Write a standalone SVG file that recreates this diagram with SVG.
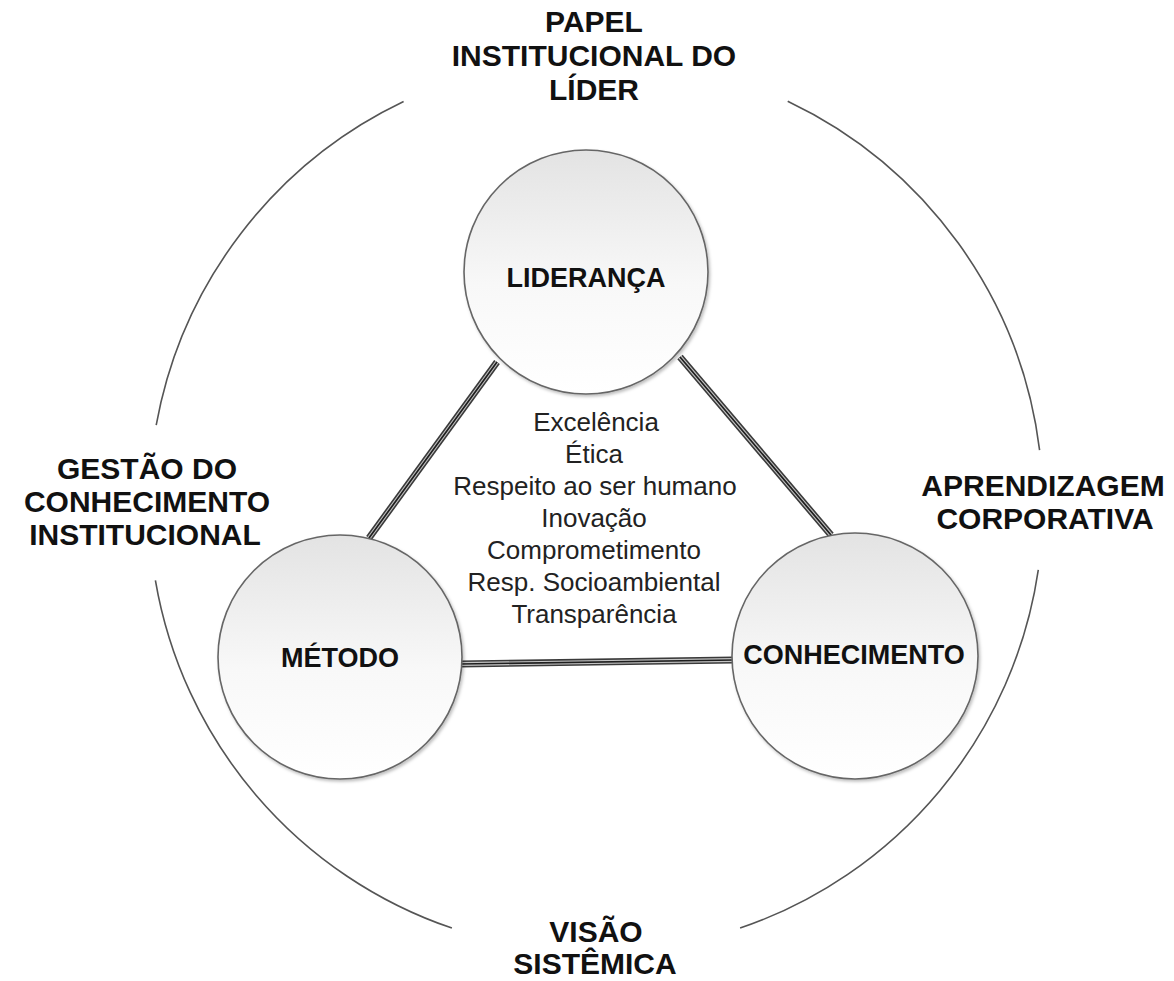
<svg xmlns="http://www.w3.org/2000/svg" width="1174" height="981" viewBox="0 0 1174 981">
  <defs>
    <linearGradient id="ballFill" x1="0" y1="0" x2="0" y2="1">
      <stop offset="0" stop-color="#e3e3e3"/>
      <stop offset="0.55" stop-color="#f8f8f8"/>
      <stop offset="1" stop-color="#ffffff"/>
    </linearGradient>
    <filter id="shadow" x="-10%" y="-10%" width="125%" height="125%">
      <feDropShadow dx="1.5" dy="2" stdDeviation="1.5" flood-color="#000" flood-opacity="0.25"/>
    </filter>
  </defs>
  <style>
    .arc { fill: none; stroke: #555; stroke-width: 1.6; }
    .ball { fill: url(#ballFill); stroke: #666; stroke-width: 1.6; filter: url(#shadow); }
    .big { font-family: "Liberation Sans", Arial, sans-serif; font-weight: bold; font-size: 30px; fill: #111; text-anchor: middle; }
    .node { font-family: "Liberation Sans", Arial, sans-serif; font-weight: bold; font-size: 27px; fill: #111; text-anchor: middle; }
    .val { font-family: "Liberation Sans", Arial, sans-serif; font-size: 26px; fill: #222; text-anchor: middle; }
    .c1 { stroke: #3a3a3a; stroke-width: 7; fill: none; }
    .c2 { stroke: #c4c4c4; stroke-width: 3.8; fill: none; }
    .c3 { stroke: #1e1e1e; stroke-width: 1.7; fill: none; }
  </style>
  <rect width="1174" height="981" fill="#ffffff"/>

  <g id="outer-ring">
    <path class="arc" d="M 403.6 101.5 A 447 447 0 0 0 156.2 425.1"/>
    <path class="arc" d="M 787.7 101.2 A 447 447 0 0 1 1039.6 450.1"/>
    <path class="arc" d="M 1038.3 569.8 A 447 447 0 0 1 740.1 928.1"/>
    <path class="arc" d="M 451.9 928.1 A 447 447 0 0 1 155.4 580.3"/>
  </g>

  <g id="label-papel">
    <text class="big" x="594" y="32">PAPEL</text>
    <text class="big" x="594" y="66">INSTITUCIONAL DO</text>
    <text class="big" x="594" y="100">LÍDER</text>
  </g>
  <g id="label-gestao">
    <text class="big" x="147" y="479">GESTÃO DO</text>
    <text class="big" x="147" y="512">CONHECIMENTO</text>
    <text class="big" x="145" y="545">INSTITUCIONAL</text>
  </g>
  <g id="label-aprendizagem">
    <text class="big" x="1043" y="496">APRENDIZAGEM</text>
    <text class="big" x="1045" y="529">CORPORATIVA</text>
  </g>
  <g id="label-visao">
    <text class="big" x="596" y="942">VISÃO</text>
    <text class="big" x="595" y="974">SISTÊMICA</text>
  </g>

  <g id="connectors">
    <g>
      <line class="c1" x1="497" y1="362" x2="369" y2="538"/>
      <line class="c2" x1="497" y1="362" x2="369" y2="538"/>
      <line class="c3" x1="497" y1="362" x2="369" y2="538"/>
    </g>
    <g>
      <line class="c1" x1="680" y1="357" x2="831" y2="535"/>
      <line class="c2" x1="680" y1="357" x2="831" y2="535"/>
      <line class="c3" x1="680" y1="357" x2="831" y2="535"/>
    </g>
    <g>
      <line class="c1" x1="460" y1="664" x2="734" y2="660"/>
      <line class="c2" x1="460" y1="664" x2="734" y2="660"/>
      <line class="c3" x1="460" y1="664" x2="734" y2="660"/>
    </g>
  </g>

  <g id="node-lideranca">
    <circle class="ball" cx="586" cy="272" r="122"/>
    <text class="node" x="586" y="287">LIDERANÇA</text>
  </g>
  <g id="node-metodo">
    <circle class="ball" cx="340" cy="657" r="122"/>
    <text class="node" x="340" y="667">MÉTODO</text>
  </g>
  <g id="node-conhecimento">
    <circle class="ball" cx="855" cy="656" r="123"/>
    <text class="node" x="854" y="664">CONHECIMENTO</text>
  </g>

  <g id="values">
    <text class="val" x="596" y="431">Excelência</text>
    <text class="val" x="594" y="463">Ética</text>
    <text class="val" x="595" y="495">Respeito ao ser humano</text>
    <text class="val" x="594" y="527">Inovação</text>
    <text class="val" x="594" y="559">Comprometimento</text>
    <text class="val" x="594" y="591">Resp. Socioambiental</text>
    <text class="val" x="594" y="623">Transparência</text>
  </g>
</svg>
